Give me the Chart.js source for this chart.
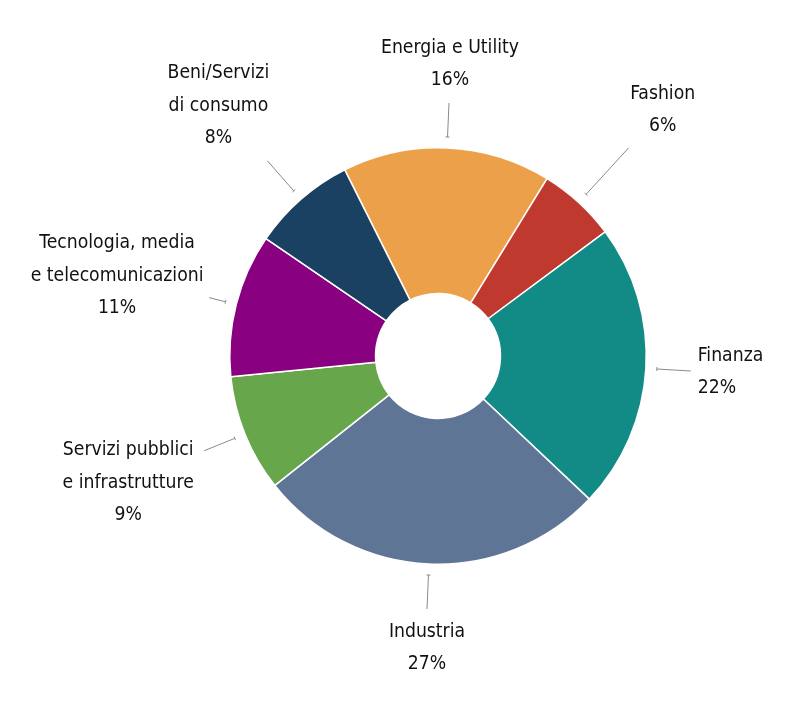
<!DOCTYPE html>
<html>
<head>
<meta charset="utf-8">
<script src="https://cdn.jsdelivr.net/npm/chart.js@4/dist/chart.umd.min.js"></script>
<style>
  html, body { margin: 0; padding: 0; background: #fff; }
  #wrap { width: 804px; height: 703px; }
</style>
</head>
<body>
<div id="wrap"><canvas id="myChart" width="804" height="703"></canvas></div>
<script>
// dati del grafico (in senso orario a partire da Energia e Utility)
var settori = [
    ['Energia e Utility'],
    ['Fashion'],
    ['Finanza'],
    ['Industria'],
    ['Servizi pubblici', 'e infrastrutture'],
    ['Tecnologia, media', 'e telecomunicazioni'],
    ['Beni/Servizi', 'di consumo']
];
var percentuali = [16, 6, 22, 27, 9, 11, 8];
var colori = ['#ECA049', '#C0392F', '#128A86', '#5F7595', '#67A64A', '#890081', '#1A4062'];

// lunghezza linee guida e posizione delle etichette (rispetto alla fine della linea)
var lunghezzaLinea = [45, 74, 45, 45, 44, 28, 51];
var spostamento = [[1, -39], [34, -38], [7, 1], [0, 39], [-76, 32], [-92, -22], [-49, -55]];
var allineamento = ['center', 'center', 'left', 'center', 'center', 'center', 'center'];

var fontEtichette = '20px "Liberation Sans Narrow", "DejaVu Sans Condensed", "Open Sans", sans-serif';
var strettezza = 0.96;

var etichettePlugin = {
    id: 'etichette',
    afterDraw: function(chart) {
        var ctx = chart.ctx;
        var meta = chart.getDatasetMeta(0);
        ctx.save();
        meta.data.forEach(function(arc, i) {
            var p = arc.getProps(['x', 'y', 'startAngle', 'endAngle', 'outerRadius'], true);
            var a = (p.startAngle + p.endAngle) / 2;
            var r0 = p.outerRadius + 11;
            var r1 = p.outerRadius + lunghezzaLinea[i];
            var x0 = p.x + Math.cos(a) * r0, y0 = p.y + Math.sin(a) * r0;
            var x1 = p.x + Math.cos(a) * r1, y1 = p.y + Math.sin(a) * r1;
            ctx.strokeStyle = '#8a8a8a';
            ctx.lineWidth = 1;
            ctx.beginPath();
            ctx.moveTo(x0, y0);
            ctx.lineTo(x1, y1);
            // piccola tacca all'estremità interna
            var px = -Math.sin(a) * 2, py = Math.cos(a) * 2;
            ctx.moveTo(x0 - px, y0 - py);
            ctx.lineTo(x0 + px, y0 + py);
            ctx.stroke();

            var righe = settori[i].concat([percentuali[i] + '%']);
            var lh = 32.5;
            var cx = x1 + spostamento[i][0];
            var cy = y1 + spostamento[i][1];
            var top = cy - (righe.length - 1) * lh / 2;
            ctx.save();
            ctx.translate(cx, 0);
            ctx.scale(strettezza, 1);
            ctx.fillStyle = '#111';
            ctx.font = fontEtichette;
            ctx.textAlign = allineamento[i];
            ctx.textBaseline = 'middle';
            for (var k = 0; k < righe.length; k++) {
                ctx.fillText(righe[k], 0, top + k * lh);
            }
            ctx.restore();
        });
        ctx.restore();
    }
};

var ctx1 = document.getElementById('myChart').getContext('2d');
var grafico = new Chart(ctx1, {
    type: 'doughnut',
    data: {
        labels: settori,
        datasets: [{
            data: percentuali,
            backgroundColor: colori,
            borderColor: '#ffffff',
            borderWidth: 1.5
        }]
    },
    options: {
        responsive: false,
        animation: false,
        devicePixelRatio: 1,
        cutout: '30%',
        rotation: -26.6,
        layout: {
            padding: { left: 229, right: 157, top: 147, bottom: 138 }
        },
        plugins: {
            legend: { display: false },
            tooltip: { enabled: false }
        }
    },
    plugins: [etichettePlugin]
});
</script>
</body>
</html>
